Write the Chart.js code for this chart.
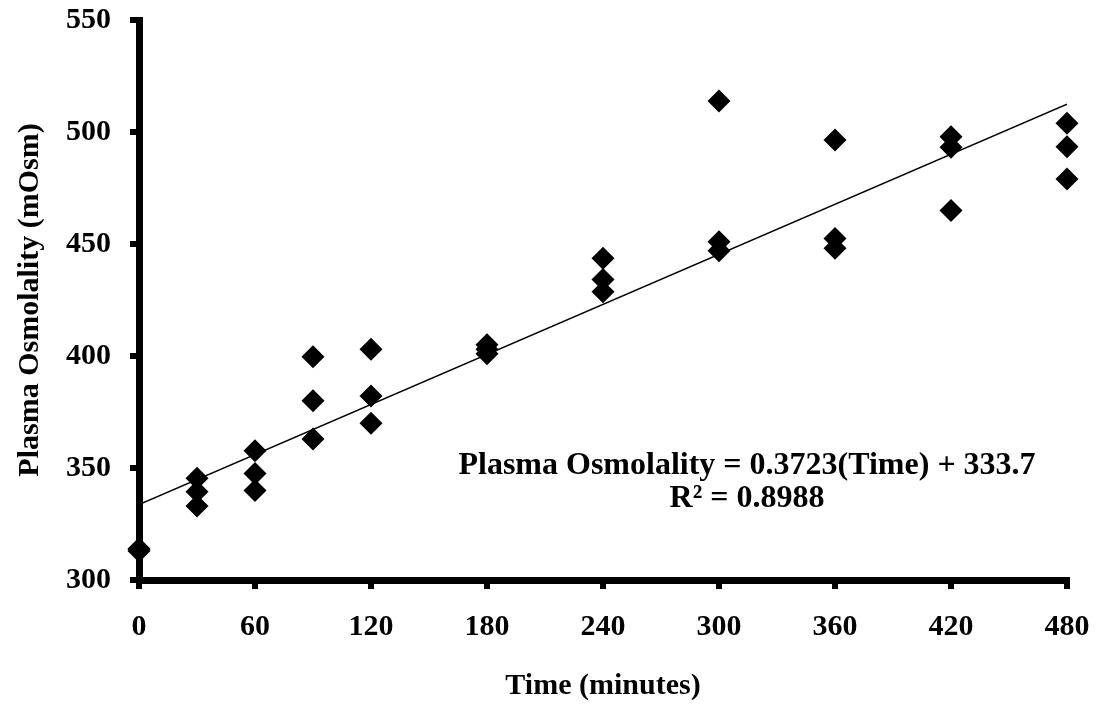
<!DOCTYPE html>
<html>
<head>
<meta charset="utf-8">
<script src="https://cdn.jsdelivr.net/npm/chart.js@4.4.0/dist/chart.umd.min.js"></script>
<style>
  body { margin: 0; background: #fff; }
  #wrap { width: 1101px; height: 705px; }
</style>
</head>
<body>
<div id="wrap"><canvas id="chart" width="1101" height="705"></canvas></div>
<script>
// sample times (minutes) and three replicate readings per time
const times = [0, 30, 60, 90, 120, 180, 240, 300, 360, 420, 480];
const rep1 = [314, 345.4, 357.7, 399.7, 403.0, 405.0, 443.6, 513.8, 496.4, 497.9, 503.9];
const rep2 = [313.5, 339.4, 347.6, 380.0, 382.1, 403.0, 434.2, 451.0, 452.5, 493.2, 493.4];
const rep3 = [313, 333.0, 339.9, 362.9, 370.0, 401.0, 428.7, 447.0, 448.1, 464.9, 479.0];

// linear trendline end points
const trendX = [0, 480];
const trendY = [333.7, 512.4];

const xTicks = [0, 60, 120, 180, 240, 300, 360, 420, 480];
const yTicks = [300, 350, 400, 450, 500, 550];

const eqLines = ['Plasma Osmolality = 0.3723(Time) + 333.7', 'R\u00B2 = 0.8988'];

const FONT = '"Liberation Serif", "Times New Roman", serif';

const points = [];
[rep1, rep2, rep3].forEach(r => {
    r.forEach((v, i) => points.push({ x: times[i], y: v }));
});

const trend = trendX.map((x, i) => ({ x: x, y: trendY[i] }));

// equation text inside the plot
const eqPlugin = {
    id: 'eq',
    afterDatasetsDraw(chart) {
        const ctx = chart.ctx;
        const xs = chart.scales.x, ys = chart.scales.y;
        ctx.save();
        ctx.fillStyle = '#000';
        ctx.font = 'bold 32px ' + FONT;
        ctx.textAlign = 'center';
        ctx.textBaseline = 'alphabetic';
        const cx = xs.getPixelForValue(314.5);
        ctx.fillText(eqLines[0], cx, ys.getPixelForValue(347.5));
        ctx.fillText(eqLines[1], cx, ys.getPixelForValue(332.6));
        ctx.restore();
    }
};

const ctx = document.getElementById('chart').getContext('2d');
new Chart(ctx, {
    type: 'scatter',
    data: {
        datasets: [{
            data: points,
            pointStyle: 'rectRot',
            pointRadius: 11.5,
            pointHoverRadius: 11.5,
            backgroundColor: '#000',
            borderColor: '#000',
            borderWidth: 0,
            clip: false
        }, {
            type: 'line',
            data: trend,
            borderColor: '#000',
            borderWidth: 1.5,
            pointRadius: 0,
            fill: false
        }]
    },
    options: {
        responsive: false,
        animation: false,
        layout: { padding: { top: 20, right: 34, left: 0, bottom: 0 } },
        plugins: {
            legend: { display: false },
            tooltip: { enabled: false }
        },
        scales: {
            x: {
                type: 'linear',
                min: 0,
                max: 480,
                afterFit: s => { s.height = 125; s.paddingLeft = 0; s.paddingRight = 0; },
                afterBuildTicks: s => { s.ticks = xTicks.map(v => ({ value: v })); },
                ticks: {
                    color: '#000',
                    padding: 20,
                    font: { family: FONT, size: 30, weight: 'bold' }
                },
                grid: { drawOnChartArea: false, color: '#000', lineWidth: 6, tickLength: 9 },
                border: { display: true, color: '#000', width: 7 },
                title: {
                    display: true,
                    text: 'Time (minutes)',
                    color: '#000',
                    padding: { top: 0, bottom: 1 },
                    font: { family: FONT, size: 30, weight: 'bold' }
                }
            },
            y: {
                type: 'linear',
                min: 300,
                max: 550,
                afterFit: s => { s.width = 139; s.paddingTop = 0; s.paddingBottom = 0; },
                afterBuildTicks: s => { s.ticks = yTicks.map(v => ({ value: v })); },
                ticks: {
                    color: '#000',
                    padding: 19,
                    font: { family: FONT, size: 30, weight: 'bold' }
                },
                grid: { drawOnChartArea: false, color: '#000', lineWidth: 6, tickLength: 9 },
                border: { display: true, color: '#000', width: 7 },
                title: {
                    display: true,
                    text: 'Plasma Osmolality (mOsm)',
                    color: '#000',
                    padding: { top: 12, bottom: 0 },
                    font: { family: FONT, size: 30, weight: 'bold' }
                }
            }
        }
    },
    plugins: [eqPlugin]
});
</script>
</body>
</html>
